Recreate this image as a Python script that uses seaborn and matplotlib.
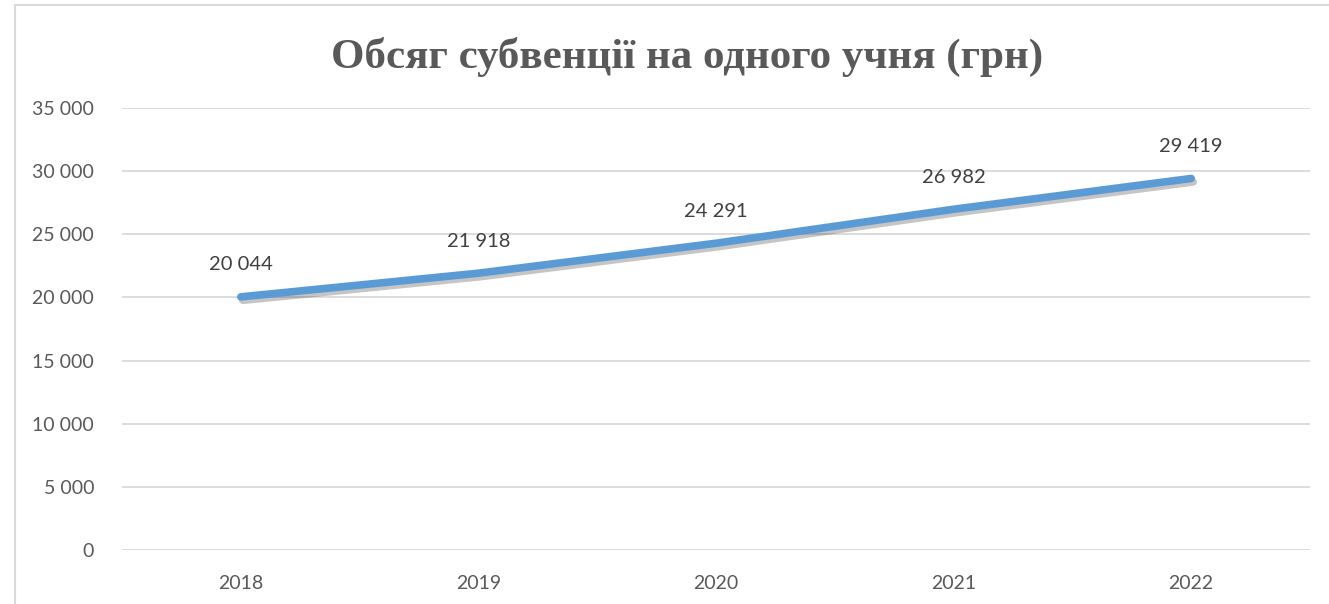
import matplotlib
matplotlib.use("Agg")
import matplotlib.patheffects as pe
import pandas as pd
import seaborn as sns
from matplotlib import pyplot as plt

years = ["2018", "2019", "2020", "2021", "2022"]
subsidy = [20044, 21918, 24291, 26982, 29419]
y_ticks = [0, 5000, 10000, 15000, 20000, 25000, 30000, 35000]

sns.set_theme(style="white")
plt.rcParams["font.family"] = ["Lato", "DejaVu Sans"]

df = pd.DataFrame({"year": years, "value": subsidy})

fig = plt.figure(figsize=(13.29, 6.04), dpi=100)
ax = fig.add_axes([0.0918, 0.0894, 0.8939, 0.7318])

sns.lineplot(data=df, x="year", y="value", ax=ax, color="#5B9BD5", linewidth=5.5,
             solid_capstyle="round", sort=False,
             path_effects=[pe.SimpleLineShadow(offset=(1.5, -2.5), alpha=0.3, shadow_color="#404040"),
                           pe.Normal()])

for i, v in enumerate(subsidy):
    ax.annotate(f"{v:,}".replace(",", " "), (i, v), xytext=(0, 17), textcoords="offset points",
                ha="center", va="bottom", fontsize=14.5, color="#404040")

ax.set_xlim(-0.5, 4.5)
ax.set_ylim(0, 35000)
ax.set_yticks(y_ticks)
ax.set_yticklabels([f"{t:,}".replace(",", " ") for t in y_ticks])
ax.yaxis.grid(True, color="#D9D9D9", linewidth=1.3)
ax.set_axisbelow(True)
for s in ax.spines.values():
    s.set_visible(False)
ax.tick_params(axis="both", length=0, labelsize=14, labelcolor="#595959")
ax.tick_params(axis="y", pad=20)
ax.tick_params(axis="x", pad=18)
ax.set_xlabel("")
ax.set_ylabel("")

fig.text(0.517, 0.905, "Обсяг субвенції на одного учня (грн)", ha="center", va="center",
         fontsize=31, fontweight="bold", color="#595959", family=["Liberation Serif", "DejaVu Serif"])

# outer chart frame (top and left edges visible)
fig.add_artist(plt.Line2D([0.0113, 1.0], [0.992, 0.992], color="#D9D9D9", linewidth=1.5))
fig.add_artist(plt.Line2D([0.0113, 0.0113], [0.0, 0.992], color="#D9D9D9", linewidth=1.5))

fig.savefig("out.png", dpi=100)
